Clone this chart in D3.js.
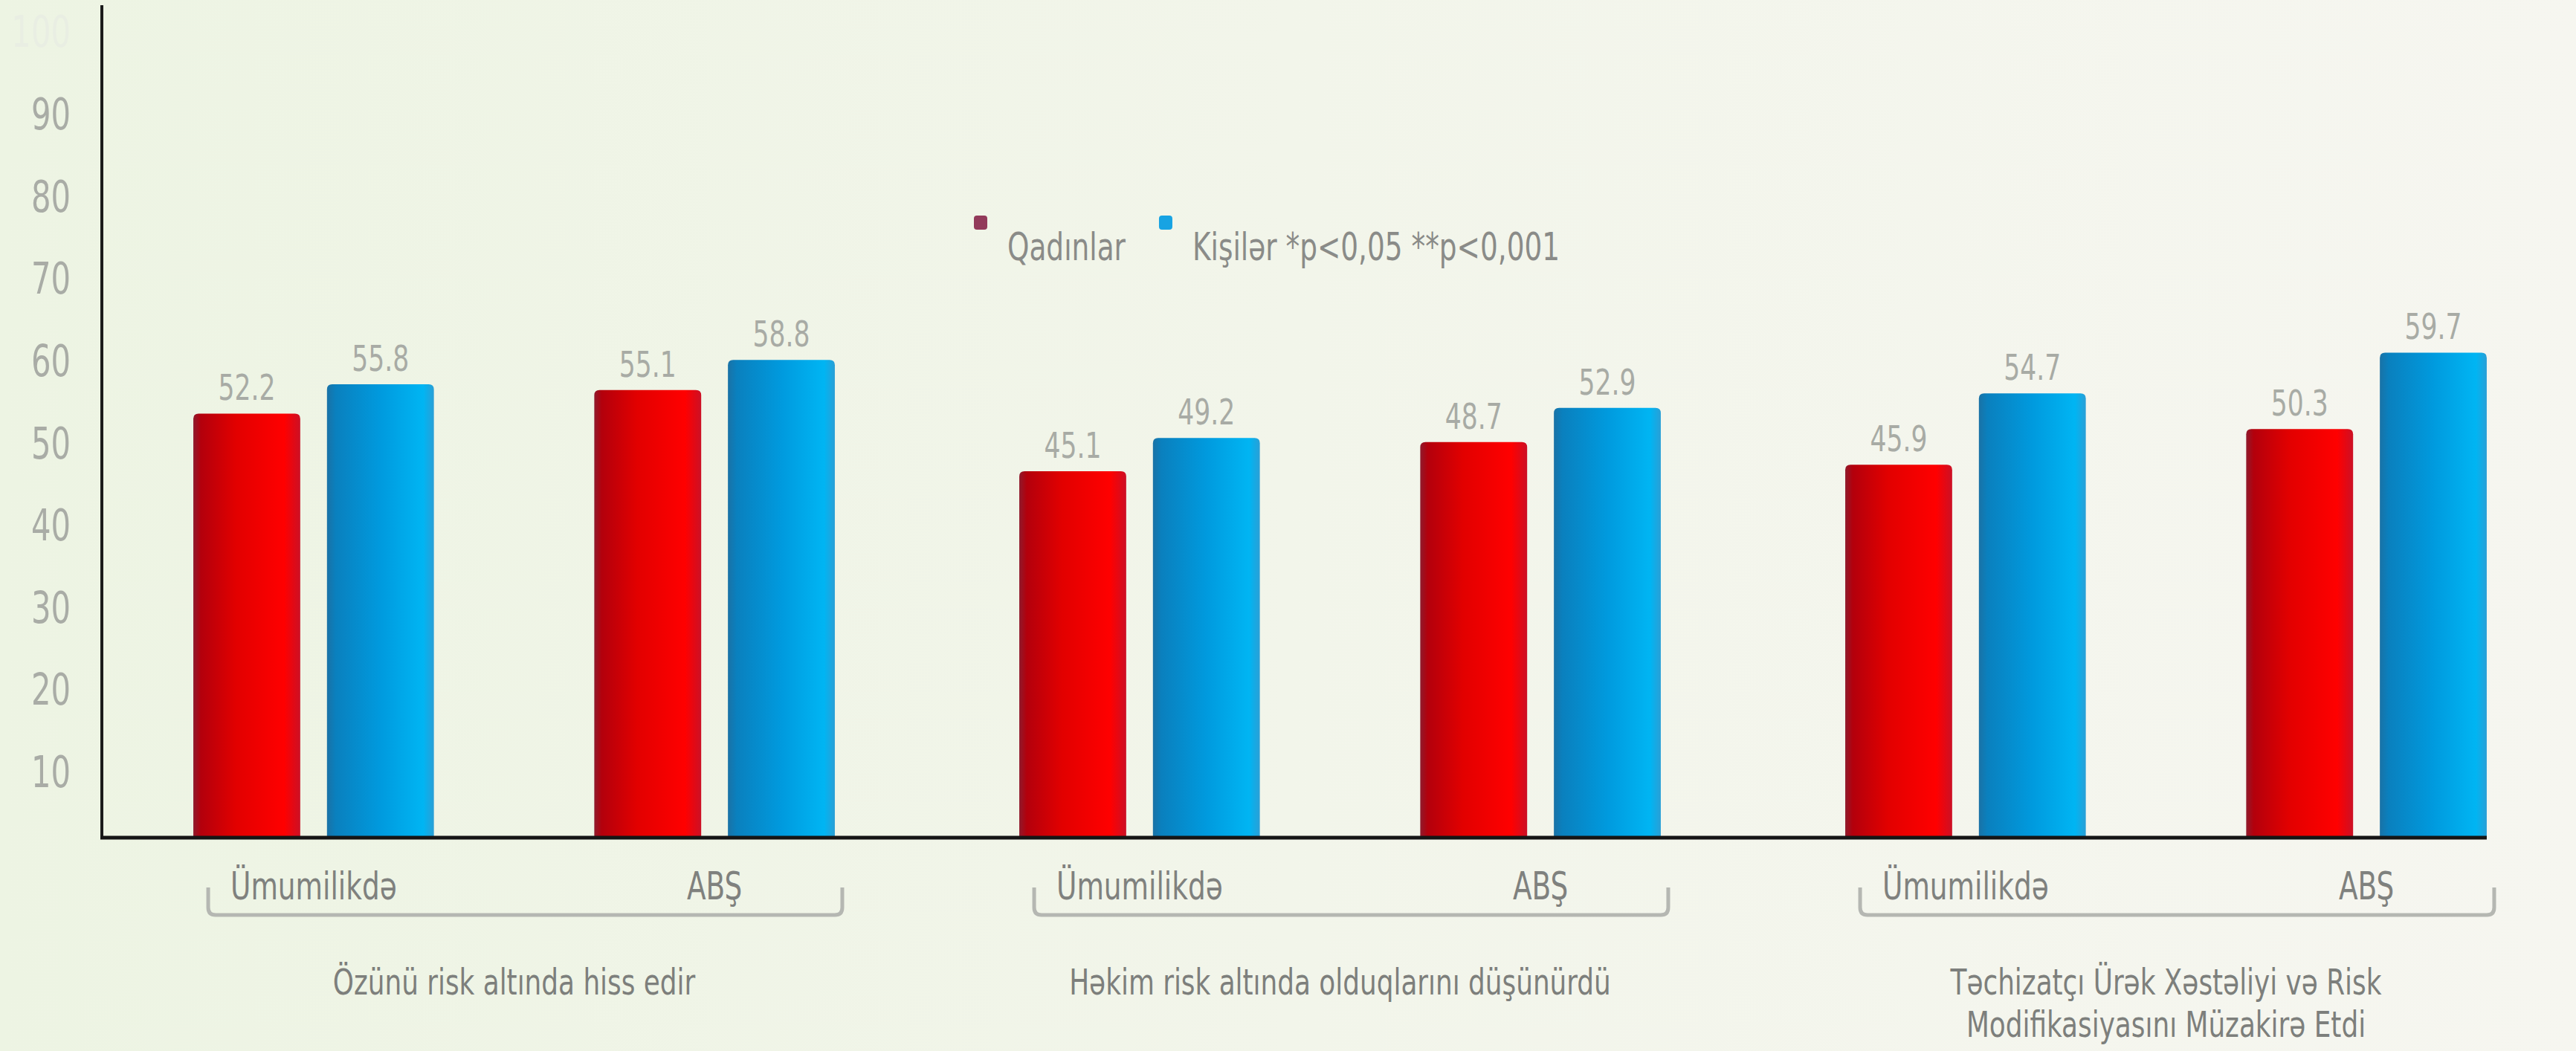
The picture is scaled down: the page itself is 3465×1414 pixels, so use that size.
<!DOCTYPE html>
<html>
<head>
<meta charset="utf-8">
<script src="https://cdn.jsdelivr.net/npm/d3@7"></script>
<style>
  body { margin: 0; background: #f2f5ea; }
  svg { display: block; }
  text { font-family: "Liberation Sans Narrow", "DejaVu Sans Condensed", "Roboto", sans-serif; }
</style>
</head>
<body>
<div id="chart"></div>
<script>
// Data
var groups = ["Özünü risk altında hiss edir", "Həkim risk altında olduqlarını düşünürdü", "Təchizatçı Ürək Xəstəliyi və Risk"];
var groupLines = [
  ["Özünü risk altında hiss edir"],
  ["Həkim risk altında olduqlarını düşünürdü"],
  ["Təchizatçı Ürək Xəstəliyi və Risk", "Modifikasiyasını Müzakirə Etdi"]
];
var regions = ["Ümumilikdə", "ABŞ"];
var series = ["Qadınlar", "Kişilər"];
var legendLabels = ["Qadınlar", "Kişilər *p<0,05 **p<0,001"];
var qadinlar = [52.2, 55.1, 45.1, 48.7, 45.9, 50.3];
var kisiler = [55.8, 58.8, 49.2, 52.9, 54.7, 59.7];
var yTicks = [10, 20, 30, 40, 50, 60, 70, 80, 90, 100];

// Dimensions
var width = 3465, height = 1414;
var axisX = 137, baseY = 1127;
var SX = 0.8; // the source font is a narrow one, squeeze text horizontally

var svg = d3.select("#chart")
  .append("svg")
    .attr("width", width)
    .attr("height", height);

var defs = svg.append("defs");

// background
var bg = defs.append("linearGradient").attr("id", "bg")
  .attr("x1", 0).attr("x2", 1).attr("y1", 0).attr("y2", 0);
bg.append("stop").attr("offset", "0%").attr("stop-color", "#edf4e3");
bg.append("stop").attr("offset", "50%").attr("stop-color", "#f2f5ea");
bg.append("stop").attr("offset", "100%").attr("stop-color", "#f6f6f0");
svg.append("rect").attr("width", width).attr("height", height).attr("fill", "url(#bg)");

// bar gradients
var gradStops = {
  "Qadınlar": [["0%", "#8f1a2c"], ["7%", "#b3000c"], ["40%", "#e20000"], ["85%", "#ff0000"], ["100%", "#cc1025"]],
  "Kişilər": [["0%", "#1a72a6"], ["8%", "#0a80be"], ["50%", "#009ade"], ["90%", "#00b5f3"], ["100%", "#2a9fd6"]]
};
series.forEach(function(s, i) {
  var g = defs.append("linearGradient").attr("id", "grad" + i)
    .attr("x1", 0).attr("x2", 1).attr("y1", 0).attr("y2", 0);
  gradStops[s].forEach(function(st) {
    g.append("stop").attr("offset", st[0]).attr("stop-color", st[1]);
  });
});

// Scales
var x0 = d3.scaleBand()
  .domain(groups)
  .range([136, 3469])
  .padding(0);
var x1 = d3.scaleBand()
  .domain(regions)
  .range([0, x0.bandwidth()])
  .paddingOuter(0.03);
var x2 = d3.scaleBand()
  .domain(series)
  .range([0, x1.bandwidth()])
  .paddingInner(0.2)
  .paddingOuter(0.6);
var y = d3.scaleLinear()
  .domain([0, 100])
  .range([baseY, 34]);
// tick labels in the picture sit on a slightly different spacing
var yAxisScale = d3.scaleLinear()
  .domain([10, 90])
  .range([1040, 155]);

var color = d3.scaleOrdinal().domain(series).range(["#923a5a", "#17a3e3"]);

// Y axis labels
var yAxis = svg.append("g")
  .attr("transform", "translate(" + axisX + ",0)")
  .call(d3.axisLeft(yAxisScale).tickValues(yTicks).tickSize(0).tickPadding(42 / SX));
yAxis.select(".domain").remove();
yAxis.selectAll("text")
  .attr("transform", "scale(" + SX + ",1)")
  .style("font-size", "58px")
  .attr("fill", function(d) { return d === 100 ? "#e9eee3" : "#a9aca6"; });

// rows
var rows = [];
groups.forEach(function(g, i) {
  regions.forEach(function(r, j) {
    var k = i * 2 + j;
    rows.push({group: g, region: r, values: [
      {series: series[0], value: qadinlar[k]},
      {series: series[1], value: kisiler[k]}
    ]});
  });
});

function topRounded(x, yy, w, h, r) {
  return "M" + x + "," + (yy + h) +
    "V" + (yy + r) + "Q" + x + "," + yy + " " + (x + r) + "," + yy +
    "H" + (x + w - r) + "Q" + (x + w) + "," + yy + " " + (x + w) + "," + (yy + r) +
    "V" + (yy + h) + "Z";
}

// Bars
var rowG = svg.append("g")
  .selectAll("g")
  .data(rows)
  .enter()
  .append("g")
    .attr("transform", function(d) { return "translate(" + (x0(d.group) + x1(d.region)) + ",0)"; });

rowG.selectAll("path")
  .data(function(d) { return d.values; })
  .enter()
  .append("path")
    .attr("d", function(d) {
      return topRounded(x2(d.series), y(d.value), x2.bandwidth(), baseY - y(d.value), 7);
    })
    .attr("fill", function(d) { return "url(#grad" + series.indexOf(d.series) + ")"; });

// Value labels
rowG.selectAll("text.val")
  .data(function(d) { return d.values; })
  .enter()
  .append("text")
    .attr("class", "val")
    .attr("transform", function(d) {
      return "translate(" + (x2(d.series) + x2.bandwidth() / 2) + "," + (y(d.value) - 18) + ") scale(" + SX + ",1)";
    })
    .attr("text-anchor", "middle")
    .style("font-size", "48px")
    .attr("fill", "#a8aba5")
    .text(function(d) { return d.value.toFixed(1); });

// Axis lines
svg.append("line")
  .attr("x1", axisX).attr("x2", axisX)
  .attr("y1", 7).attr("y2", baseY + 2)
  .attr("stroke", "#1b1b1b").attr("stroke-width", 4);
var lastRight = x0(groups[2]) + x1(regions[1]) + x2(series[1]) + x2.bandwidth();
svg.append("line")
  .attr("x1", axisX - 2).attr("x2", lastRight)
  .attr("y1", baseY).attr("y2", baseY)
  .attr("stroke", "#151515").attr("stroke-width", 5);

// Region labels
rowG.append("text")
  .attr("transform", "translate(" + (x1.bandwidth() / 2) + ",1210) scale(" + SX + ",1)")
  .attr("text-anchor", "middle")
  .style("font-size", "52px")
  .attr("fill", "#7f817e")
  .text(function(d) { return d.region; });

// Brackets under each group
svg.append("g")
  .selectAll("path")
  .data(groups)
  .enter()
  .append("path")
    .attr("d", function(g) {
      var a = x0(g) + x1(regions[0]) + x2(series[0]) + 20;
      var b = x0(g) + x1(regions[1]) + x2(series[1]) + x2.bandwidth() + 10;
      var yb = 1231, yt = 1194, r = 10;
      return "M" + a + "," + yt + "V" + (yb - r) + "Q" + a + "," + yb + " " + (a + r) + "," + yb +
        "H" + (b - r) + "Q" + b + "," + yb + " " + b + "," + (yb - r) + "V" + yt;
    })
    .attr("fill", "none")
    .attr("stroke", "#b5b7b2")
    .attr("stroke-width", 5);

// Group labels
var gl = svg.append("g")
  .selectAll("text")
  .data(groups)
  .enter()
  .append("text")
    .attr("transform", function(g) {
      return "translate(" + (x0(g) + x0.bandwidth() / 2) + ",1338) scale(" + (SX + 0.03) + ",1)";
    })
    .attr("text-anchor", "middle")
    .style("font-size", "48px")
    .attr("fill", "#7d7f7c");
gl.selectAll("tspan")
  .data(function(g, i) { return groupLines[i]; })
  .enter()
  .append("tspan")
    .attr("x", 0)
    .attr("dy", function(d, i) { return i === 0 ? 0 : 57; })
    .text(function(d) { return d; });

// Legend
var legend = svg.append("g");
var lx = 1310;
legendLabels.forEach(function(lbl, i) {
  var item = legend.append("g").attr("transform", "translate(" + lx + ",0)");
  item.append("rect")
    .attr("x", 0).attr("y", 290)
    .attr("width", 18).attr("height", 19)
    .attr("rx", 4)
    .attr("fill", color(series[i]));
  var t = item.append("text")
    .attr("transform", "translate(45,350) scale(" + SX + ",1)")
    .style("font-size", "52px")
    .attr("fill", "#8a8b88")
    .text(lbl);
  lx += 45 + t.node().getComputedTextLength() * SX + 45;
});
</script>
</body>
</html>
